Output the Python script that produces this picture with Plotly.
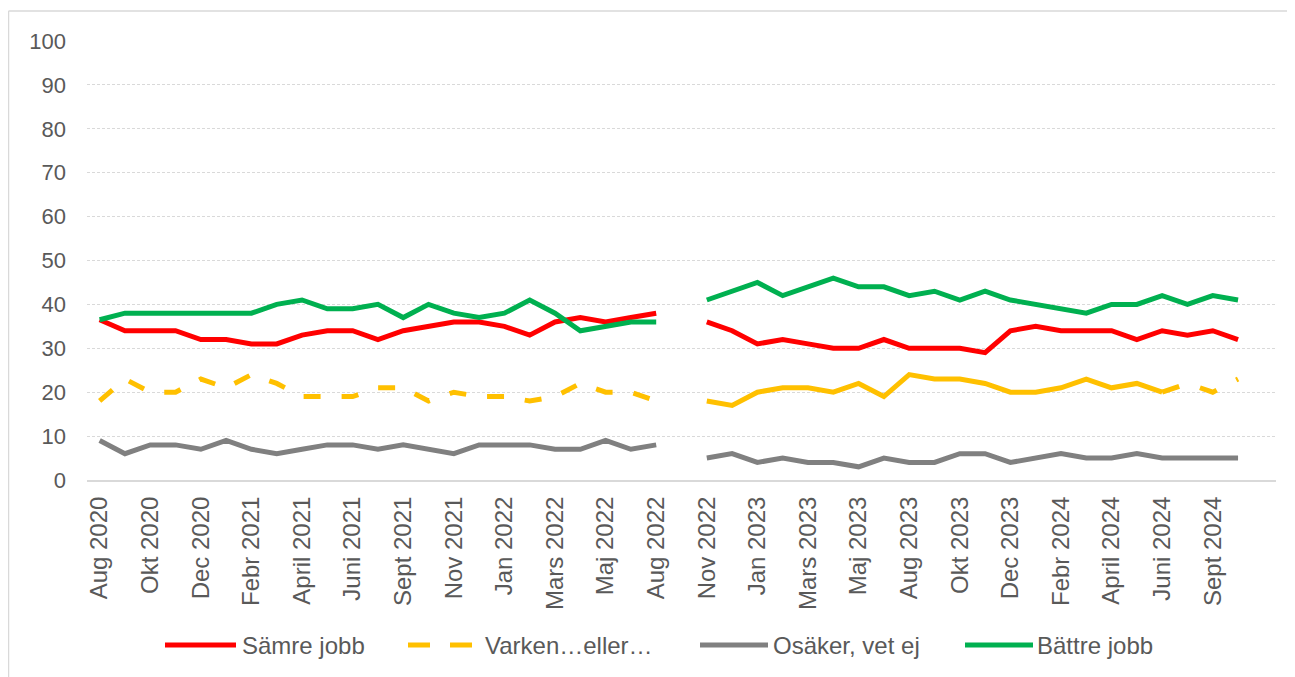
import plotly.graph_objects as go

# ---------------- data ----------------
categories = [
    "Aug 2020", "Sept 2020", "Okt 2020", "Nov 2020", "Dec 2020", "Jan 2021",
    "Febr 2021", "Mars 2021", "April 2021", "Maj 2021", "Juni 2021", "Aug 2021",
    "Sept 2021", "Okt 2021", "Nov 2021", "Dec 2021", "Jan 2022", "Febr 2022",
    "Mars 2022", "April 2022", "Maj 2022", "Juni 2022", "Aug 2022", "",
    "Nov 2022", "Dec 2022", "Jan 2023", "Febr 2023", "Mars 2023", "April 2023",
    "Maj 2023", "Juni 2023", "Aug 2023", "Sept 2023", "Okt 2023", "Nov 2023",
    "Dec 2023", "Jan 2024", "Febr 2024", "Mars 2024", "April 2024", "Maj 2024",
    "Juni 2024", "Aug 2024", "Sept 2024", "Okt 2024", "",
]

samre = [36.5, 34, 34, 34, 32, 32, 31, 31, 33, 34, 34, 32, 34, 35, 36, 36, 35, 33, 36, 37, 36, 37, 38,
         None,
         36, 34, 31, 32, 31, 30, 30, 32, 30, 30, 30, 29, 34, 35, 34, 34, 34, 32, 34, 33, 34, 32,
         None]

varken = [18, 23, 20, 20, 23, 21, 24, 22, 19, 19, 19, 21, 21, 18, 20, 19, 19, 18, 19, 22, 20, 20, 18,
          None,
          18, 17, 20, 21, 21, 20, 22, 19, 24, 23, 23, 22, 20, 20, 21, 23, 21, 22, 20, 22, 20, 23,
          None]

osaker = [9, 6, 8, 8, 7, 9, 7, 6, 7, 8, 8, 7, 8, 7, 6, 8, 8, 8, 7, 7, 9, 7, 8,
          None,
          5, 6, 4, 5, 4, 4, 3, 5, 4, 4, 6, 6, 4, 5, 6, 5, 5, 6, 5, 5, 5, 5,
          None]

battre = [36.5, 38, 38, 38, 38, 38, 38, 40, 41, 39, 39, 40, 37, 40, 38, 37, 38, 41, 38, 34, 35, 36, 36,
          None,
          41, 43, 45, 42, 44, 46, 44, 44, 42, 43, 41, 43, 41, 40, 39, 38, 40, 40, 42, 40, 42, 41,
          None]

series_names = ["Sämre jobb", "Varken…eller…", "Osäker, vet ej", "Bättre jobb"]
series_colors = ["#FF0000", "#FFC000", "#808080", "#00B050"]

# ---------------- layout constants ----------------
OFF = 8                      # page body margin of the html page
W, H = 1295 - OFF, 677 - OFF
ML, MT = 87 - OFF, 41 - OFF
PW, PH = 1189, 439
MR, MB = W - ML - PW, H - MT - PH
FONT = "Liberation Sans, Arial, sans-serif"
TXT = "#595959"
GRID = "#D9D9D9"
LW = 5
DASH = "17px,21px"
DASH_TAIL = "18px,22px"

x = list(range(len(categories)))

fig = go.Figure()

# Sämre jobb
fig.add_trace(go.Scatter(x=x, y=samre, mode="lines", name=series_names[0],
                         line=dict(color=series_colors[0], width=LW), connectgaps=False,
                         showlegend=False))

# Varken...eller... : first period dashed, second period solid, last part dashed
first_end = categories.index("Aug 2022")
second_start = categories.index("Nov 2022")
dash_tail_start = categories.index("Juni 2024")
v1 = [v if i <= first_end else None for i, v in enumerate(varken)]
v2 = [v if second_start <= i <= dash_tail_start else None for i, v in enumerate(varken)]
v3 = [v if i >= dash_tail_start else None for i, v in enumerate(varken)]
for vv, d in ((v1, DASH), (v2, "solid"), (v3, DASH_TAIL)):
    fig.add_trace(go.Scatter(x=x, y=vv, mode="lines", name=series_names[1],
                             line=dict(color=series_colors[1], width=LW, dash=d),
                             connectgaps=False, showlegend=False))

# Osäker, vet ej
fig.add_trace(go.Scatter(x=x, y=osaker, mode="lines", name=series_names[2],
                         line=dict(color=series_colors[2], width=LW), connectgaps=False,
                         showlegend=False))

# Bättre jobb
fig.add_trace(go.Scatter(x=x, y=battre, mode="lines", name=series_names[3],
                         line=dict(color=series_colors[3], width=LW), connectgaps=False,
                         showlegend=False))


# convert page pixel positions to paper coordinates
def px2x(px):
    return (px - OFF - ML) / PW


def px2y(py):
    return (MT + PH - (py - OFF)) / PH


shapes = []
annotations = []

# chart border (left and top edges visible)
shapes.append(dict(type="line", xref="paper", yref="paper",
                   x0=px2x(8.5), x1=px2x(8.5), y0=px2y(11), y1=px2y(690),
                   line=dict(color=GRID, width=1.5)))
shapes.append(dict(type="line", xref="paper", yref="paper",
                   x0=px2x(8.5), x1=px2x(1300), y0=px2y(11), y1=px2y(11),
                   line=dict(color=GRID, width=1.5)))

# manual legend
leg_start = [165, 408, 700, 965]
leg_len = [71, 70, 68, 68]
text_x = [242, 485, 773, 1037]
leg_y = 645
for i, name in enumerate(series_names):
    dash = "22px,20px" if i == 1 else "solid"
    shapes.append(dict(type="line", xref="paper", yref="paper",
                       x0=px2x(leg_start[i]), x1=px2x(leg_start[i] + leg_len[i]),
                       y0=px2y(leg_y), y1=px2y(leg_y),
                       line=dict(color=series_colors[i], width=LW, dash=dash)))
    annotations.append(dict(xref="paper", yref="paper", x=px2x(text_x[i] - 2),
                            y=px2y(leg_y), xanchor="left", yanchor="middle",
                            text=name, showarrow=False,
                            font=dict(family=FONT, size=24, color=TXT)))

fig.update_layout(
    width=W, height=H,
    margin=dict(l=ML, r=MR, t=MT, b=MB, autoexpand=False),
    paper_bgcolor="white", plot_bgcolor="white",
    showlegend=False,
    shapes=shapes,
    annotations=annotations,
    xaxis=dict(
        range=[-0.5, len(categories) - 0.5],
        tickmode="array",
        tickvals=x[::2],
        ticktext=categories[::2],
        tickangle=-90,
        ticks="",
        showgrid=False,
        showline=True, linecolor=GRID, linewidth=2,
        zeroline=False,
        ticklabelstandoff=5,
        tickfont=dict(family=FONT, size=24, color=TXT),
    ),
    yaxis=dict(
        range=[0, 100],
        tickmode="linear", tick0=0, dtick=10,
        ticks="",
        showgrid=True, gridcolor=GRID, gridwidth=1, griddash="3px,2px",
        zeroline=False,
        showline=False,
        ticklabelstandoff=20,
        tickfont=dict(family=FONT, size=22, color=TXT),
    ),
)

fig.write_html("out.html")
